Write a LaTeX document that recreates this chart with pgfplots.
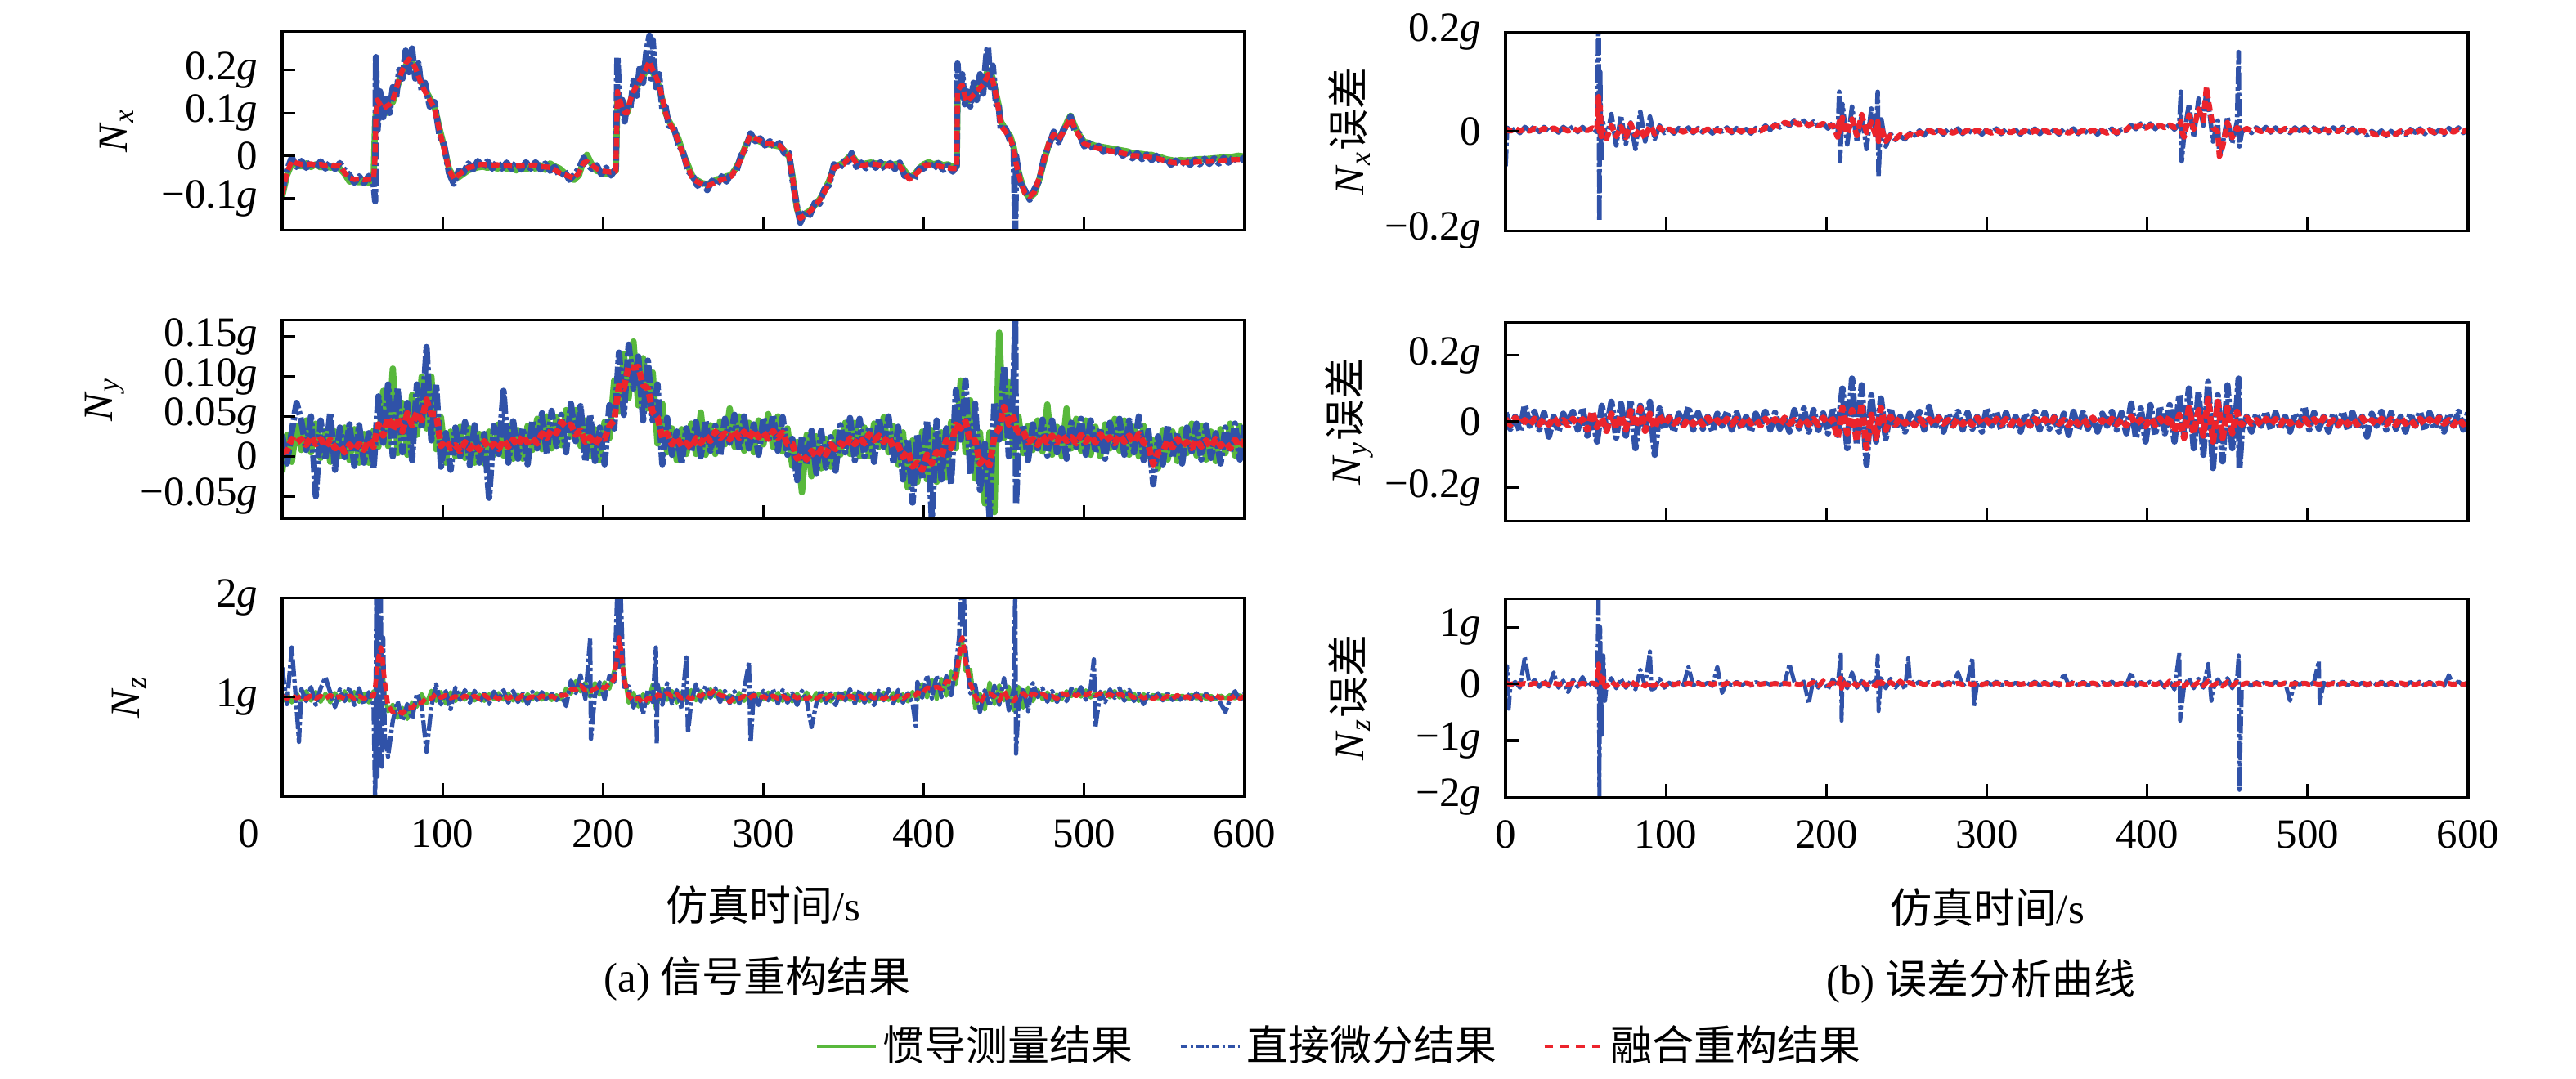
\documentclass[border=0pt]{standalone}
\usepackage{fontspec}
\setmainfont{Liberation Serif}
\newfontfamily\cjk{Noto Sans CJK SC}
\usepackage{pgfplots}
\pgfplotsset{compat=1.18}
\usepackage{pgfplotstable}
\definecolor{cg}{RGB}{88,184,60}
\definecolor{cb}{RGB}{48,82,168}
\definecolor{cr}{RGB}{236,36,44}

\pgfplotstableread{
t g b r
0 -0.095 -0.085 -0.09
3 -0.045 -0.035 -0.04
6 -0.018 -0.004 -0.012
9 -0.02 -0.026 -0.017
12 -0.025 -0.012 -0.02
15 -0.018 -0.028 -0.021
18 -0.026 -0.014 -0.019
21 -0.02 -0.029 -0.022
24 -0.027 -0.013 -0.02
27 -0.022 -0.03 -0.023
30 -0.028 -0.015 -0.021
33 -0.024 -0.031 -0.024
36 -0.03 -0.017 -0.023
39 -0.042 -0.035 -0.04
42 -0.06 -0.045 -0.052
45 -0.058 -0.063 -0.055
48 -0.062 -0.048 -0.054
51 -0.057 -0.064 -0.056
54 -0.063 -0.047 -0.055
57 -0.058 -0.065 -0.055
58 0.08 -0.106 0.0
58.5 0.10 0.23 0.10
59.5 0.12 0.06 0.13
61 0.11 0.15 0.12
63 0.105 0.09 0.11
65 0.1 0.14 0.115
67 0.12 0.1 0.12
69 0.125 0.16 0.13
71 0.15 0.135 0.155
73 0.175 0.2 0.18
75 0.19 0.18 0.2
77 0.21 0.245 0.215
79 0.21 0.195 0.225
81 0.22 0.25 0.22
83 0.205 0.18 0.205
85 0.19 0.215 0.185
87 0.17 0.15 0.165
89 0.155 0.17 0.15
92 0.135 0.115 0.13
95 0.115 0.125 0.11
98 0.065 0.05 0.06
101 0.02 0.025 0.015
104 -0.03 -0.04 -0.032
107 -0.05 -0.065 -0.054
110 -0.05 -0.035 -0.045
113 -0.042 -0.04 -0.036
116 -0.034 -0.018 -0.028
119 -0.03 -0.032 -0.025
122 -0.027 -0.012 -0.021
125 -0.025 -0.028 -0.02
128 -0.028 -0.013 -0.021
131 -0.023 -0.03 -0.022
134 -0.03 -0.014 -0.021
137 -0.026 -0.03 -0.023
140 -0.03 -0.016 -0.022
143 -0.027 -0.031 -0.024
146 -0.034 -0.016 -0.024
149 -0.028 -0.032 -0.024
152 -0.032 -0.015 -0.023
155 -0.025 -0.03 -0.022
158 -0.03 -0.015 -0.022
161 -0.022 -0.032 -0.025
164 -0.033 -0.018 -0.026
167 -0.018 -0.035 -0.027
170 -0.025 -0.026 -0.033
173 -0.03 -0.047 -0.04
176 -0.04 -0.036 -0.044
179 -0.052 -0.056 -0.048
182 -0.056 -0.045 -0.053
185 -0.045 -0.03 -0.04
188 -0.01 -0.005 -0.016
190 0.002 -0.02 -0.014
193 -0.02 -0.03 -0.022
196 -0.035 -0.022 -0.03
199 -0.038 -0.043 -0.035
202 -0.042 -0.028 -0.037
205 -0.04 -0.046 -0.038
208 -0.035 -0.03 -0.036
209 0.14 0.23 0.15
210.5 0.13 0.1 0.13
212 0.11 0.13 0.11
213.5 0.095 0.08 0.1
215 0.1 0.12 0.1
217 0.125 0.11 0.13
219 0.145 0.175 0.15
221 0.16 0.14 0.163
223 0.175 0.21 0.177
225 0.185 0.17 0.19
227 0.2 0.24 0.205
229 0.21 0.28 0.22
230 0.2 0.18 0.21
231 0.195 0.27 0.2
233 0.18 0.16 0.185
235 0.16 0.19 0.165
237 0.13 0.11 0.135
239 0.1 0.115 0.1
241 0.082 0.07 0.08
244 0.062 0.068 0.06
247 0.04 0.028 0.035
250 0.005 0.008 0.0
253 -0.022 -0.035 -0.027
256 -0.05 -0.047 -0.055
259 -0.058 -0.07 -0.061
262 -0.064 -0.058 -0.066
265 -0.066 -0.08 -0.07
268 -0.062 -0.058 -0.066
271 -0.055 -0.068 -0.06
274 -0.053 -0.048 -0.056
277 -0.048 -0.06 -0.052
280 -0.045 -0.04 -0.048
283 -0.028 -0.038 -0.03
286 -0.006 0.0 -0.008
289 0.025 0.017 0.025
292 0.044 0.052 0.047
295 0.038 0.034 0.041
298 0.033 0.041 0.035
301 0.028 0.024 0.03
304 0.026 0.034 0.028
307 0.024 0.02 0.026
310 0.022 0.03 0.024
313 0.012 0.006 0.013
316 -0.002 0.006 0.0
318 -0.045 -0.053 -0.047
321 -0.125 -0.12 -0.126
323 -0.142 -0.156 -0.146
326 -0.135 -0.13 -0.138
329 -0.128 -0.138 -0.13
332 -0.115 -0.11 -0.117
335 -0.102 -0.112 -0.104
338 -0.083 -0.078 -0.085
341 -0.058 -0.068 -0.06
344 -0.026 -0.02 -0.028
347 -0.022 -0.032 -0.024
350 -0.016 -0.013 -0.02
353 -0.004 -0.014 -0.006
355 0.002 0.006 0.0
358 -0.014 -0.026 -0.018
361 -0.02 -0.016 -0.023
364 -0.018 -0.029 -0.021
367 -0.016 -0.012 -0.019
370 -0.018 -0.028 -0.02
373 -0.02 -0.015 -0.022
376 -0.02 -0.032 -0.024
379 -0.021 -0.017 -0.024
382 -0.02 -0.031 -0.024
385 -0.018 -0.016 -0.024
388 -0.035 -0.047 -0.04
391 -0.05 -0.048 -0.055
394 -0.045 -0.055 -0.046
397 -0.03 -0.03 -0.036
400 -0.02 -0.03 -0.022
403 -0.015 -0.014 -0.021
406 -0.02 -0.03 -0.023
409 -0.017 -0.017 -0.024
412 -0.022 -0.033 -0.026
415 -0.02 -0.022 -0.028
418 -0.026 -0.037 -0.03
420.5 -0.025 -0.024 -0.03
421 0.14 0.215 0.15
422.5 0.16 0.13 0.16
424 0.165 0.19 0.165
425.5 0.14 0.12 0.14
427 0.125 0.15 0.126
429 0.135 0.115 0.134
431 0.145 0.17 0.142
433 0.15 0.13 0.15
435 0.165 0.19 0.158
437 0.175 0.145 0.166
439 0.19 0.235 0.18
440 0.2 0.255 0.19
441.5 0.195 0.16 0.185
443 0.18 0.21 0.175
445 0.145 0.12 0.14
446.5 0.12 0.125 0.11
448 0.08 0.06 0.07
451 0.06 0.064 0.056
454 0.045 0.033 0.04
456 0.02 0.022 0.016
457 0.0 -0.18 -0.005
457.5 -0.015 0.0 -0.018
460 -0.05 -0.062 -0.055
463 -0.085 -0.08 -0.087
466 -0.098 -0.102 -0.095
469 -0.088 -0.078 -0.085
472 -0.055 -0.058 -0.05
475 -0.012 -0.004 -0.01
478 0.028 0.024 0.031
481 0.05 0.056 0.05
484 0.04 0.032 0.038
487 0.058 0.061 0.055
490 0.085 0.074 0.08
491.5 0.093 0.092 0.087
494 0.07 0.06 0.066
497 0.048 0.051 0.045
500 0.032 0.022 0.028
503 0.03 0.03 0.024
506 0.024 0.014 0.02
509 0.022 0.023 0.017
512 0.02 0.009 0.015
515 0.018 0.018 0.012
518 0.016 0.004 0.01
521 0.014 0.014 0.008
524 0.012 0.0 0.006
527 0.01 0.009 0.003
530 0.006 -0.006 0.0
533 0.005 0.006 0.0
536 0.004 -0.008 -0.002
539 0.002 0.003 -0.003
542 0.002 -0.01 -0.004
545 -0.002 0.0 -0.006
548 -0.004 -0.015 -0.009
551 -0.008 -0.006 -0.012
554 -0.01 -0.021 -0.015
557 -0.012 -0.011 -0.017
560 -0.01 -0.022 -0.016
563 -0.011 -0.01 -0.016
566 -0.01 -0.021 -0.015
569 -0.009 -0.009 -0.015
572 -0.008 -0.02 -0.014
575 -0.008 -0.007 -0.013
578 -0.007 -0.019 -0.013
581 -0.006 -0.006 -0.012
584 -0.005 -0.018 -0.012
587 -0.004 -0.005 -0.011
590 -0.004 -0.016 -0.01
593 -0.002 -0.003 -0.009
596 0.0 -0.014 -0.009
600 -0.002 -0.004 -0.008
}\tA

\pgfplotstableread{
t g b r
0 -0.02 0.027 0.004
3 0.027 -0.009 0.007
6 -0.007 0.031 0.022
9 0.038 0.067 0.017
12 0.008 0.044 0.022
15 0.045 0.008 0.014
18 0.005 0.05 0.025
21 0.041 -0.05 0.015
24 -0.002 0.045 0.022
27 0.032 -0.004 0.012
30 -0.007 0.055 0.021
33 0.031 -0.017 0.01
36 0.0 0.036 0.014
39 0.036 -0.001 0.005
42 -0.005 0.04 0.015
45 0.034 -0.012 0.008
48 -0.008 0.039 0.016
51 0.028 -0.008 0.008
54 -0.008 0.029 0.02
57 0.032 -0.015 0.012
60 0.012 0.075 0.04
63 0.082 0.017 0.026
66 0.013 0.09 0.049
69 0.11 0.0 0.033
72 0.004 0.085 0.048
75 0.067 0.005 0.031
78 0.002 0.067 0.054
81 0.077 -0.005 0.039
84 0.027 0.09 0.055
87 0.1 0.035 0.045
90 0.035 0.137 0.071
93 0.1 0.02 0.053
96 0.009 0.09 0.053
99 0.049 -0.013 0.013
102 -0.008 0.029 0.02
105 0.031 -0.017 0.01
108 0.0 0.036 0.014
111 0.037 0.0 0.006
114 -0.002 0.043 0.018
117 0.035 -0.011 0.009
120 -0.008 0.039 0.016
123 0.028 -0.008 0.008
126 -0.009 0.028 0.019
129 0.031 -0.052 0.01
132 0.002 0.038 0.016
135 0.04 0.003 0.009
138 0.001 0.082 0.021
141 0.038 -0.008 0.012
144 -0.003 0.044 0.021
147 0.033 -0.003 0.013
150 -0.003 0.035 0.026
153 0.038 -0.01 0.017
156 0.008 0.045 0.023
159 0.047 0.01 0.016
162 0.009 0.054 0.029
165 0.05 0.003 0.023
168 0.01 0.057 0.034
171 0.049 0.013 0.029
174 0.014 0.052 0.043
177 0.058 0.005 0.037
180 0.025 0.066 0.04
183 0.058 0.019 0.027
186 0.013 0.063 0.033
189 0.045 -0.006 0.018
192 0.0 0.052 0.024
195 0.034 -0.006 0.014
198 -0.005 0.036 0.024
201 0.043 -0.01 0.022
204 0.023 0.064 0.038
207 0.095 0.035 0.045
210 0.056 0.13 0.089
213 0.128 0.052 0.085
216 0.073 0.14 0.113
219 0.144 0.085 0.111
222 0.064 0.125 0.112
225 0.123 0.045 0.089
228 0.06 0.12 0.085
231 0.105 0.045 0.055
234 0.016 0.09 0.049
237 0.066 -0.01 0.023
240 0.005 0.048 0.029
243 0.035 0.002 0.015
246 -0.005 0.031 0.024
249 0.034 -0.009 0.013
252 0.003 0.035 0.017
255 0.041 0.006 0.01
258 0.003 0.043 0.023
261 0.055 0.0 0.016
264 0.002 0.044 0.026
267 0.039 0.007 0.019
270 0.003 0.038 0.031
273 0.044 0.001 0.023
276 0.015 0.047 0.029
279 0.06 0.017 0.021
282 0.012 0.052 0.032
285 0.05 0.007 0.023
288 0.007 0.05 0.031
291 0.042 0.01 0.022
294 0.005 0.04 0.033
297 0.045 0.002 0.024
300 0.015 0.048 0.03
303 0.053 0.018 0.022
306 0.012 0.052 0.032
309 0.05 0.007 0.023
312 0.006 0.049 0.03
315 0.035 0.002 0.015
318 -0.012 0.022 0.016
321 0.018 -0.03 -0.003
324 -0.045 0.025 0.003
327 0.027 -0.01 -0.004
330 -0.025 0.032 0.007
333 0.025 -0.021 -0.001
336 -0.015 0.032 0.009
339 0.022 -0.014 0.002
342 -0.013 0.024 0.015
345 0.03 -0.018 0.009
348 0.002 0.039 0.017
351 0.042 0.005 0.011
354 0.003 0.048 0.023
357 0.042 -0.005 0.015
360 0.0 0.047 0.024
363 0.036 0.0 0.016
366 0.0 0.037 0.028
369 0.041 -0.007 0.02
372 0.012 0.048 0.026
375 0.049 0.012 0.018
378 0.005 0.05 0.025
381 0.038 -0.009 0.011
384 -0.01 0.037 0.014
387 0.03 -0.029 -0.001
390 -0.039 0.022 0.007
393 0.02 -0.058 -0.013
396 -0.032 0.028 -0.008
399 0.031 -0.029 -0.017
402 -0.029 0.045 0.002
405 0.033 -0.078 -0.009
408 -0.032 0.045 0.006
411 0.03 -0.029 -0.001
414 -0.026 0.035 0.02
417 0.043 -0.035 0.01
420 0.01 0.083 0.04
423 0.095 0.021 0.035
426 0.005 0.095 0.044
429 0.07 -0.023 0.018
432 -0.028 0.066 0.02
435 0.03 -0.042 -0.009
438 -0.059 0.016 -0.002
441 0.03 -0.075 -0.011
444 -0.07 0.068 0.025
447 0.155 0.021 0.035
450 0.023 0.113 0.062
453 0.093 0.0 0.04
456 0.001 0.095 0.049
457 0.03 0.175 0.04
457.5 0.035 -0.06 0.035
459 0.05 0.018 0.03
462 0.004 0.039 0.032
465 0.038 -0.005 0.017
468 0.008 0.04 0.022
471 0.045 0.01 0.014
474 0.006 0.046 0.026
477 0.065 0.001 0.017
480 0.002 0.045 0.026
483 0.037 0.005 0.017
486 0.0 0.035 0.028
489 0.06 -0.003 0.019
492 0.01 0.042 0.024
495 0.047 0.012 0.016
498 0.007 0.047 0.027
501 0.045 0.002 0.018
504 0.002 0.045 0.026
507 0.037 0.005 0.017
510 0.0 0.035 0.028
513 0.04 -0.003 0.019
516 0.01 0.042 0.024
519 0.047 0.012 0.016
522 0.007 0.047 0.027
525 0.045 0.002 0.018
528 0.002 0.045 0.026
531 0.037 0.005 0.017
534 0.0 0.05 0.028
537 0.038 -0.005 0.017
540 0.0 0.032 0.014
543 0.02 -0.035 -0.01
546 -0.015 0.025 0.005
549 0.033 -0.01 0.006
552 -0.004 0.039 0.02
555 0.031 -0.002 0.011
558 -0.006 0.029 0.022
561 0.034 -0.009 0.013
564 0.004 0.036 0.018
567 0.041 0.006 0.01
570 0.001 0.041 0.021
573 0.038 -0.004 0.012
576 -0.004 0.039 0.02
579 0.031 -0.002 0.011
582 -0.006 0.029 0.022
585 0.034 -0.009 0.013
588 0.004 0.036 0.018
591 0.041 0.006 0.01
594 0.001 0.041 0.021
597 0.038 -0.004 0.012
600 -0.004 0.039 0.02
}\tB

\pgfplotstableread{
t g b r
0 0.952 1.3 1.012
3 1.036 0.93 0.985
6 0.946 1.5 1.02
9 1.042 0.9 0.99
10.5 1.0 0.55 1.0
12 0.97 1.08 1.008
15 1.06 0.96 0.982
18 0.964 1.1 1.015
21 1.054 0.92 0.988
24 0.952 1.09 1.012
27 1.036 1.2 0.985
30 0.946 1.05 1.02
33 1.042 0.9 0.99
36 0.97 1.08 1.008
39 1.06 0.96 0.982
42 0.964 1.1 1.015
45 1.054 0.92 0.988
48 0.952 1.09 1.012
51 1.036 0.93 0.985
54 0.946 1.05 1.02
57 1.06 0.92 1.01
58 1.05 -0.05 1.1
58.7 1.1 2.1 1.2
59.4 1.15 0.2 1.3
60.1 1.2 2.1 1.4
60.8 1.3 0.4 1.45
61.5 1.4 2.1 1.5
62.2 1.35 0.3 1.45
63 1.2 1.6 1.3
64 1.0 0.6 1.15
66 0.857 0.4 0.915
69 0.925 0.764 0.848
72 0.792 0.958 0.862
75 0.893 0.766 0.835
78 0.78 0.93 0.89
81 0.95 0.78 0.89
84 0.904 1.036 0.948
87 1.032 0.912 0.943
90 0.937 0.45 0.995
93 1.065 0.904 0.988
96 0.962 1.128 1.032
99 1.053 0.926 0.995
102 0.935 1.06 1.02
105 1.05 0.88 0.99
108 0.96 1.096 1.008
111 1.042 0.972 0.982
114 0.975 1.07 1.015
117 1.038 0.944 0.988
120 0.966 1.063 1.012
123 1.025 0.951 0.985
126 0.962 1.035 1.02
129 1.03 0.93 0.99
132 0.979 1.056 1.008
135 1.042 0.972 0.982
138 0.975 1.07 1.015
141 1.038 0.944 0.988
144 0.966 1.063 1.012
147 1.025 0.951 0.985
150 0.962 1.035 1.02
153 1.03 0.93 0.99
156 0.979 1.056 1.008
159 1.042 0.972 0.982
162 0.975 1.05 1.015
165 1.03 0.965 0.988
168 0.97 1.035 1.012
171 1.02 0.97 0.985
174 0.975 1.03 1.02
177 1.088 0.91 1.02
180 1.034 1.166 1.078
183 1.162 1.042 1.072
186 1.057 1.22 1.115
189 1.145 0.984 1.068
192 1.002 1.59 1.072
192.5 1.05 0.58 1.06
195 1.143 1.016 1.085
198 1.025 1.15 1.11
201 1.15 0.98 1.09
204 1.084 1.216 1.128
207 1.27 1.152 1.183
209 1.4 2.1 1.45
210 1.55 1.3 1.6
211 1.45 2.05 1.5
213 1.265 1.104 1.188
216 0.942 1.108 1.012
219 1.045 0.896 0.965
222 0.905 1.03 0.99
225 1.03 0.83 0.94
228 0.94 1.076 0.988
231 1.13 0.952 0.982
233 0.88 1.5 1.0
233.5 1.0 0.52 1.0
234 0.938 1.13 1.025
237 1.085 0.924 1.008
240 0.972 1.138 1.042
243 1.063 0.936 1.005
246 0.945 1.07 1.03
249 1.05 0.88 0.99
252 0.964 1.4 1.008
253 1.0 0.64 1.0
255 1.072 0.952 0.982
258 0.967 1.13 1.025
261 1.063 0.956 1.008
264 0.992 1.112 1.052
267 1.079 0.994 1.035
270 1.007 1.09 1.07
273 1.064 0.95 1.02
276 0.976 1.064 1.008
279 1.018 0.938 0.952
282 0.951 1.06 0.995
285 1.043 0.936 0.988
288 0.962 1.072 1.012
291 1.029 1.35 0.985
292 1.0 0.54 1.0
294 0.957 1.04 1.02
297 1.034 0.92 0.99
300 0.976 1.064 1.008
303 1.048 0.968 0.982
306 0.971 1.08 1.015
309 1.043 0.936 0.988
312 0.962 1.072 1.012
315 1.029 0.944 0.985
318 0.957 1.04 1.02
321 1.034 0.92 0.99
324 0.976 1.064 1.008
327 1.048 0.968 0.982
330 0.971 0.7 1.015
333 1.043 0.936 0.988
336 0.962 1.072 1.012
339 1.029 0.944 0.985
342 0.957 1.04 1.02
345 1.034 0.92 0.99
348 0.976 1.064 1.008
351 1.048 0.968 0.982
354 0.971 1.08 1.015
357 1.043 0.936 0.988
360 0.962 1.072 1.012
363 1.029 0.944 0.985
366 0.957 1.04 1.02
369 1.034 0.92 0.99
372 0.976 1.064 1.008
375 1.048 0.968 0.982
378 0.971 1.08 1.015
381 1.043 0.936 0.988
384 0.962 1.072 1.012
387 1.029 0.944 0.985
390 0.957 1.04 1.02
393 1.054 0.94 1.01
395 1.0 0.71 1.02
396 0.97 1.152 1.048
399 1.134 0.994 1.032
402 0.996 1.22 1.095
405 1.176 0.988 1.088
408 0.978 1.216 1.102
411 1.184 1.002 1.085
414 1.014 1.21 1.16
417 1.258 1.02 1.15
420 1.13 1.312 1.208
422 1.35 1.6 1.4
423 1.5 2.1 1.55
424 1.55 1.7 1.6
425 1.45 2.05 1.5
426 1.266 1.49 1.365
429 1.276 1.038 1.138
432 0.888 1.126 1.012
435 1.034 0.852 0.935
438 0.874 1.07 1.02
441 1.148 0.91 1.04
444 0.93 1.112 1.008
447 1.12 0.924 0.962
450 0.966 1.19 1.065
453 1.106 0.868 0.968
456 0.866 1.076 0.962
457 0.95 2.1 0.97
457.5 1.0 0.43 1.0
459 1.104 0.922 1.005
462 0.894 1.09 1.04
465 1.098 0.86 0.99
468 0.96 1.142 1.038
471 1.072 1.002 1.012
474 0.978 1.09 1.035
477 1.048 0.954 0.998
480 0.966 1.063 1.012
483 1.025 0.951 0.985
486 0.982 1.055 1.04
489 1.06 0.96 1.02
492 1.009 1.086 1.038
495 1.072 1.002 1.012
498 1.005 1.1 1.045
501 1.068 0.974 1.018
504 0.996 1.093 1.042
506 1.03 1.38 1.03
507 1.055 0.7 1.015
510 0.982 1.055 1.04
513 1.05 0.95 1.01
516 0.999 1.076 1.028
519 1.062 0.992 1.002
522 0.995 1.09 1.035
525 1.058 0.964 1.008
528 0.976 1.073 1.022
531 1.035 0.961 0.995
534 0.962 1.035 1.02
537 1.03 0.93 0.99
540 0.988 1.032 1.008
543 1.024 0.984 0.982
546 0.986 1.04 1.015
549 1.022 0.968 0.988
552 0.981 1.036 1.012
555 1.014 0.972 0.985
558 0.978 1.02 1.02
561 1.017 0.96 0.99
564 0.988 1.032 1.008
567 1.024 0.984 0.982
570 0.986 1.04 1.015
573 1.022 0.968 0.988
576 0.981 1.036 1.012
579 1.014 0.972 0.985
582 0.978 1.02 1.02
585 1.017 0.94 0.99
588 0.988 0.85 1.008
591 1.024 0.984 0.982
594 0.986 1.06 1.015
597 1.022 0.968 0.988
600 0.981 1.036 1.012
}\tC

\pgfplotstableread{
t b r
0 -0.07 0.0
1 0.008 0.004
3 -0.001 0.001
6 0.006 0.006
9 -0.003 0.001
12 0.009 0.005
15 0.002 0.001
18 0.01 0.006
21 -0.001 0.002
24 0.009 0.006
27 0.0 0.002
30 0.007 0.007
33 -0.002 0.002
36 0.009 0.005
39 0.002 0.001
42 0.01 0.006
45 -0.001 0.002
48 0.009 0.006
51 0.0 0.002
54 0.007 0.007
57 -0.001 0.004
58 0.25 0.07
58.5 -0.18 0.0
59 0.12 0.05
59.6 -0.06 -0.01
60 0.028 0.006
63 -0.014 -0.014
66 0.035 0.012
69 -0.028 -0.01
72 0.032 0.01
75 -0.025 -0.012
78 0.018 0.016
81 -0.035 -0.008
84 0.04 0.006
87 -0.02 -0.014
90 0.03 0.012
93 -0.015 -0.005
96 0.012 0.008
99 -0.003 0.0
102 0.005 0.005
105 -0.004 0.0
108 0.007 0.003
111 0.0 -0.001
114 0.008 0.004
117 -0.003 0.0
120 0.007 0.004
123 -0.002 0.0
126 0.005 0.005
129 -0.004 0.0
132 0.007 0.003
135 0.0 -0.001
138 0.008 0.004
141 -0.003 0.0
144 0.007 0.004
147 -0.002 0.0
150 0.005 0.005
153 -0.004 0.0
156 0.007 0.003
159 0.002 0.001
162 0.012 0.008
165 0.003 0.006
168 0.015 0.012
171 0.008 0.01
174 0.018 0.018
177 0.011 0.015
180 0.023 0.019
183 0.015 0.014
186 0.022 0.018
189 0.01 0.013
192 0.02 0.017
195 0.01 0.012
198 0.016 0.016
201 0.006 0.01
204 0.017 0.013
207 -0.008 -0.011
208 0.08 0.02
208.5 -0.06 0.0
210 0.055 0.028
213 -0.026 -0.005
216 0.05 0.025
219 -0.021 -0.008
222 0.033 0.034
225 -0.035 -0.002
228 0.046 0.019
231 -0.008 -0.011
232 0.08 0.02
232.5 -0.09 -0.02
234 0.03 0.01
237 -0.03 -0.02
240 -0.005 -0.008
243 -0.017 -0.015
246 -0.009 -0.007
249 -0.016 -0.012
252 -0.003 -0.006
255 -0.008 -0.009
258 0.002 -0.002
261 -0.008 -0.005
264 0.006 0.002
267 -0.004 -0.002
270 0.003 0.003
273 -0.006 -0.002
276 0.005 0.001
279 -0.002 -0.003
282 0.006 0.002
285 -0.005 -0.002
288 0.005 0.002
291 -0.004 -0.002
294 0.003 0.003
297 -0.006 -0.002
300 0.005 0.001
303 -0.002 -0.003
306 0.006 0.002
309 -0.005 -0.002
312 0.005 0.002
315 -0.004 -0.002
318 0.003 0.003
321 -0.006 -0.002
324 0.005 0.001
327 -0.002 -0.003
330 0.006 0.002
333 -0.005 -0.002
336 0.005 0.002
339 -0.004 -0.002
342 0.003 0.003
345 -0.006 -0.002
348 0.005 0.001
351 -0.002 -0.003
354 0.006 0.002
357 -0.005 -0.002
360 0.005 0.002
363 -0.004 -0.002
366 0.003 0.003
369 -0.006 -0.002
372 0.005 0.001
375 -0.002 -0.003
378 0.006 0.002
381 -0.005 -0.002
384 0.005 0.002
387 0.001 0.003
390 0.013 0.013
393 0.005 0.009
396 0.016 0.012
399 0.008 0.007
402 0.016 0.012
405 0.005 0.008
408 0.015 0.012
411 0.006 0.008
414 0.013 0.013
417 0.004 0.008
420 0.015 0.012
421 0.08 0.02
421.5 -0.06 0.0
423 -0.006 -0.011
426 0.055 0.033
429 -0.012 0.005
432 0.066 0.045
435 0.012 0.022
437 0.09 0.09
438 0.06 0.064
441 -0.02 0.008
444 0.022 -0.001
445 -0.05 -0.05
447 -0.026 -0.03
450 0.03 0.018
453 -0.024 -0.012
456 0.02 0.008
457 0.16 0.003
457.5 -0.03 0.0
459 -0.001 0.001
462 0.006 0.006
465 -0.003 0.001
468 0.008 0.004
471 0.001 0.0
474 0.009 0.005
477 -0.002 0.001
480 0.008 0.005
483 -0.001 0.001
486 0.006 0.006
489 -0.003 0.001
492 0.008 0.004
495 0.001 0.0
498 0.009 0.005
501 -0.002 0.001
504 0.008 0.005
507 -0.001 0.001
510 0.006 0.006
513 -0.003 0.001
516 0.008 0.004
519 0.001 0.0
522 0.009 0.005
525 -0.002 0.001
528 0.007 0.004
531 -0.003 -0.001
534 0.003 0.003
537 -0.008 -0.004
540 0.001 -0.003
543 -0.006 -0.007
546 0.002 -0.002
549 -0.009 -0.006
552 0.001 -0.002
555 -0.007 -0.005
558 0.001 0.001
561 -0.007 -0.003
564 0.005 0.001
567 -0.002 -0.003
570 0.006 0.002
573 -0.005 -0.002
576 0.005 0.002
579 -0.004 -0.002
582 0.003 0.003
585 -0.006 -0.002
588 0.007 0.003
591 0.0 -0.001
594 0.008 0.004
597 -0.003 0.0
600 0.007 0.004
}\tD

\pgfplotstableread{
t b r
0 0.027 0.008
3 -0.021 -0.009
6 0.015 0.012
9 -0.03 -0.006
12 0.05 0.005
15 -0.012 -0.011
18 0.03 0.009
21 -0.024 -0.008
24 0.027 0.008
27 -0.045 -0.009
30 0.015 0.012
33 -0.03 -0.006
36 0.024 0.005
39 -0.012 -0.011
42 0.03 0.009
45 -0.024 -0.008
48 0.04 0.008
51 -0.042 -0.024
54 0.03 0.032
57 -0.06 -0.016
60 0.048 0.012
63 -0.024 -0.028
66 0.06 0.024
69 -0.048 -0.02
72 0.054 0.02
75 -0.042 -0.024
78 0.065 0.032
81 -0.08 -0.016
84 0.048 0.04
87 -0.024 -0.028
90 0.06 0.024
93 -0.1 -0.02
96 0.04 0.02
99 -0.021 -0.009
102 0.015 0.012
105 -0.03 -0.006
108 0.024 0.005
111 -0.012 -0.011
114 0.045 0.009
117 -0.024 -0.008
120 0.027 0.008
123 -0.021 -0.009
126 0.015 0.012
129 -0.03 -0.006
132 0.024 0.005
135 -0.012 -0.011
138 0.03 0.009
141 -0.024 -0.008
144 0.027 0.008
147 -0.021 -0.009
150 0.015 0.012
153 -0.03 -0.006
156 0.024 0.005
159 -0.012 -0.011
162 0.03 0.009
165 -0.024 -0.008
168 0.027 0.008
171 -0.021 -0.009
174 0.015 0.012
177 -0.03 -0.006
180 0.035 0.005
183 -0.02 -0.011
186 0.04 0.009
189 -0.03 -0.008
192 0.035 0.008
195 -0.025 -0.009
198 0.025 0.012
201 -0.035 -0.006
204 0.04 0.008
207 -0.04 -0.049
210 0.1 0.042
213 -0.08 -0.035
216 0.13 0.035
219 -0.07 -0.06
222 0.11 0.056
225 -0.13 -0.08
228 0.08 0.021
231 -0.06 -0.049
234 0.07 0.042
237 -0.05 -0.025
240 0.04 0.015
243 -0.021 -0.009
246 0.015 0.012
249 -0.03 -0.006
252 0.024 0.005
255 -0.012 -0.011
258 0.03 0.009
261 -0.024 -0.008
264 0.045 0.008
267 -0.021 -0.009
270 0.015 0.012
273 -0.03 -0.006
276 0.024 0.005
279 -0.012 -0.011
282 0.03 0.009
285 -0.024 -0.008
288 0.027 0.008
291 -0.021 -0.009
294 0.015 0.012
297 -0.03 -0.006
300 0.04 0.005
303 -0.012 -0.011
306 0.03 0.009
309 -0.024 -0.008
312 0.027 0.008
315 -0.021 -0.009
318 0.015 0.012
321 -0.03 -0.006
324 0.024 0.005
327 -0.012 -0.011
330 0.03 0.009
333 -0.024 -0.008
336 0.027 0.008
339 -0.021 -0.009
342 0.015 0.012
345 -0.03 -0.006
348 0.024 0.005
351 -0.04 -0.011
354 0.03 0.009
357 -0.024 -0.008
360 0.027 0.008
363 -0.021 -0.009
366 0.015 0.012
369 -0.03 -0.006
372 0.024 0.005
375 -0.012 -0.011
378 0.03 0.009
381 -0.024 -0.008
384 0.027 0.008
387 -0.035 -0.012
390 0.055 0.016
393 -0.05 -0.008
396 0.04 0.006
399 -0.06 -0.014
402 0.05 0.012
405 -0.04 -0.01
408 0.045 0.01
411 -0.035 -0.012
414 0.05 0.016
417 -0.06 -0.03
420 0.08 0.021
423 -0.04 -0.049
426 0.1 0.042
429 -0.08 -0.035
432 0.09 0.035
435 -0.1 -0.042
438 0.12 0.07
441 -0.14 -0.06
444 0.08 0.06
447 -0.12 -0.049
450 0.11 0.042
453 -0.08 -0.035
456 0.06 0.03
457 0.13 0.01
457.5 -0.14 0.0
459 -0.021 -0.009
462 0.015 0.012
465 -0.03 -0.006
468 0.024 0.005
471 -0.012 -0.011
474 0.03 0.009
477 -0.024 -0.008
480 0.027 0.008
483 -0.021 -0.009
486 0.015 0.012
489 -0.03 -0.006
492 0.024 0.005
495 -0.012 -0.011
498 0.045 0.009
501 -0.024 -0.008
504 0.027 0.008
507 -0.021 -0.009
510 0.015 0.012
513 -0.03 -0.006
516 0.024 0.005
519 -0.012 -0.011
522 0.03 0.009
525 -0.024 -0.008
528 0.027 0.008
531 -0.021 -0.009
534 0.015 0.012
537 -0.045 -0.006
540 0.024 0.005
543 -0.012 -0.011
546 0.03 0.009
549 -0.024 -0.008
552 0.027 0.008
555 -0.021 -0.009
558 0.015 0.012
561 -0.03 -0.006
564 0.024 0.005
567 -0.012 -0.011
570 0.03 0.009
573 -0.024 -0.008
576 0.027 0.008
579 -0.021 -0.009
582 0.015 0.012
585 -0.03 -0.006
588 0.024 0.005
591 -0.012 -0.011
594 0.03 0.009
597 -0.024 -0.008
600 0.027 0.008
}\tE

\pgfplotstableread{
t b r
0 0.063 0.03
1 0.31 0.0
2 -0.44 0.0
3 -0.049 -0.012
6 0.035 0.016
9 -0.07 -0.008
12 0.48 0.006
15 -0.028 -0.014
18 0.07 0.012
21 -0.056 -0.01
24 0.063 0.01
27 -0.049 -0.012
30 0.2 0.016
33 -0.07 -0.008
36 0.056 0.006
39 -0.15 -0.014
42 0.07 0.012
45 -0.056 -0.01
48 0.12 0.01
51 -0.049 -0.012
54 0.035 0.016
57 -0.07 -0.008
58 1.6 0.35
58.5 -2.1 0.1
59 1.0 0.2
60 -0.9 -0.05
61 0.5 0.1
62 -0.3 -0.06
63 -0.04 -0.042
66 0.1 0.036
69 -0.08 -0.03
72 0.09 0.03
75 -0.07 -0.036
78 0.05 0.048
81 -0.1 -0.024
84 0.25 0.018
87 -0.04 -0.042
90 0.57 0.036
91 -0.1 -0.03
93 -0.08 -0.03
96 0.09 0.03
99 -0.07 -0.036
102 0.02 0.016
105 -0.04 -0.008
108 0.032 0.006
111 -0.016 -0.014
114 0.3 0.012
117 -0.032 -0.01
120 0.036 0.01
123 -0.028 -0.012
126 0.02 0.016
129 -0.04 -0.008
132 0.3 0.006
135 -0.16 -0.014
138 0.04 0.012
141 -0.032 -0.01
144 0.036 0.01
147 -0.028 -0.012
150 0.02 0.016
153 -0.04 -0.008
156 0.032 0.006
159 -0.008 -0.007
162 0.02 0.006
165 -0.016 -0.005
168 0.018 0.005
171 -0.014 -0.006
174 0.01 0.008
177 0.35 -0.004
180 0.032 0.006
183 -0.016 -0.014
186 0.04 0.012
189 -0.35 -0.01
192 0.09 0.03
195 -0.07 -0.036
198 0.05 0.048
201 -0.1 -0.024
204 0.08 0.018
207 -0.04 -0.042
209 0.55 0.1
209.5 -0.65 -0.08
210 0.1 0.036
213 -0.08 -0.03
216 0.2 0.03
219 -0.07 -0.036
222 0.05 0.048
225 -0.1 -0.024
228 0.08 0.018
231 -0.04 -0.042
232 0.5 0.03
232.5 -0.48 -0.03
234 0.1 0.036
237 -0.08 -0.03
240 0.09 0.03
243 -0.07 -0.036
246 0.05 0.048
249 -0.1 -0.024
251 0.45 0.02
252 0.08 0.018
255 -0.016 -0.014
258 0.04 0.012
261 -0.032 -0.01
264 0.036 0.01
267 -0.028 -0.012
270 0.02 0.016
273 -0.04 -0.008
276 0.032 0.006
279 -0.016 -0.014
282 0.2 0.012
285 -0.032 -0.01
288 0.036 0.01
291 0.45 -0.012
292 -0.4 -0.01
294 0.02 0.016
297 -0.04 -0.008
300 0.032 0.006
303 -0.016 -0.014
306 0.04 0.012
309 -0.032 -0.01
312 0.036 0.01
315 -0.028 -0.012
318 0.02 0.016
321 -0.04 -0.008
324 0.032 0.006
327 -0.016 -0.014
330 0.04 0.012
333 -0.032 -0.01
336 0.036 0.01
339 -0.028 -0.012
342 0.02 0.016
345 -0.04 -0.008
348 0.18 0.006
351 -0.016 -0.014
354 0.04 0.012
357 -0.032 -0.01
360 0.036 0.01
363 -0.028 -0.012
366 0.02 0.016
369 -0.04 -0.008
372 0.032 0.006
375 -0.016 -0.014
378 0.04 0.012
381 -0.032 -0.01
384 0.036 0.01
387 -0.028 -0.012
390 0.2 0.016
393 -0.04 -0.008
396 0.032 0.006
399 -0.016 -0.014
402 0.04 0.012
405 -0.032 -0.01
408 0.036 0.01
411 -0.07 -0.036
414 0.05 0.048
417 -0.1 -0.024
420 0.55 0.018
420.5 -0.65 -0.04
423 -0.04 -0.042
426 0.1 0.036
429 -0.08 -0.03
432 0.09 0.03
435 -0.07 -0.036
438 0.35 0.048
440 -0.3 -0.03
441 -0.1 -0.024
444 0.08 0.018
447 -0.04 -0.042
450 0.1 0.036
453 -0.08 -0.03
456 0.09 0.03
457 0.5 0.02
457.5 -1.87 -0.02
459 -0.028 -0.012
462 0.02 0.016
465 -0.04 -0.008
468 0.032 0.006
471 -0.016 -0.014
474 0.04 0.012
477 -0.032 -0.01
480 0.036 0.01
483 -0.028 -0.012
486 0.02 0.016
489 -0.3 -0.008
492 0.032 0.006
495 -0.016 -0.014
498 0.04 0.012
501 -0.032 -0.01
504 0.036 0.01
507 0.4 -0.012
507.5 -0.35 -0.01
510 0.02 0.016
513 -0.04 -0.008
516 0.032 0.006
519 -0.016 -0.014
522 0.04 0.012
525 -0.032 -0.01
528 0.036 0.01
531 -0.028 -0.012
534 0.02 0.016
537 -0.04 -0.008
540 0.032 0.006
543 -0.016 -0.014
546 0.04 0.012
549 -0.032 -0.01
552 0.036 0.01
555 -0.028 -0.012
558 0.02 0.016
561 -0.04 -0.008
564 0.032 0.006
567 -0.016 -0.014
570 0.04 0.012
573 -0.032 -0.01
576 0.036 0.01
579 -0.028 -0.012
582 0.02 0.016
585 -0.04 -0.008
588 0.15 0.006
591 -0.016 -0.014
594 0.04 0.012
597 -0.032 -0.01
600 0.036 0.01
}\tF

\pgfplotsset{
  panel/.style={
    scale only axis, width=11.77cm, height=2.43cm,
    xmin=0, xmax=600,
    axis on top,
    axis line style={line width=0.9pt},
    every tick/.style={black, line width=0.9pt},
    major tick length=0.16cm,
    tick align=inside,
    xtick pos=left, ytick pos=left,
    xtick={0,100,200,300,400,500,600},
    xticklabels={},
    xticklabel shift=0.11cm,
    yticklabel shift=0.12cm,
    every axis y label/.style={at={(axis description cs:-0.1716,0.5)}, rotate=90, anchor=center},
  },
  gline/.style={color=cg, line width=1.4pt, line join=round},
  bline/.style={color=cb, line width=1.4pt, line join=round, dash pattern=on 6pt off 1pt on 1.2pt off 1pt},
  rline/.style={color=cr, line width=1.5pt, line join=round, dash pattern=on 3pt off 1.4pt},
}

\begin{document}
\fontsize{14.5}{17}\selectfont
\begin{tikzpicture}
\path (0cm,0cm) rectangle (31.5cm,13.03cm);

% ---------- (a) left column ----------
\begin{axis}[panel, at={(3.45cm,10.29cm)}, anchor=south west,
  ymin=-0.173, ymax=0.29,
  ytick={-0.1,0,0.1,0.2},
  yticklabels={−0.1\textit{g},0,0.1\textit{g},0.2\textit{g}},
  ylabel={\textit{N}\textsubscript{\textit{x}}}]
\addplot[gline, line width=2.2pt] table[x=t,y=g]{\tA};
\addplot[bline, line width=2.2pt] table[x=t,y=b]{\tA};
\addplot[rline, line width=1.8pt] table[x=t,y=r]{\tA};
\end{axis}

\begin{axis}[panel, at={(3.45cm,6.76cm)}, anchor=south west,
  ymin=-0.078, ymax=0.171,
  ytick={-0.05,0,0.05,0.1,0.15},
  yticklabels={−0.05\textit{g},0,0.05\textit{g},0.10\textit{g},0.15\textit{g}},
  ylabel={\textit{N}\textsubscript{\textit{y}}},
  ylabel style={at={(axis description cs:-0.1844,0.6)}}]
\addplot[gline, line width=2.2pt] table[x=t,y=g]{\tB};
\addplot[bline, line width=2.2pt] table[x=t,y=b]{\tB};
\addplot[rline, line width=2.2pt] table[x=t,y=r]{\tB};
\end{axis}

\begin{axis}[panel, at={(3.45cm,3.36cm)}, anchor=south west,
  ymin=0, ymax=2,
  ytick={1,2},
  yticklabels={1\textit{g},2\textit{g}},
  xticklabels={\makebox[0pt]{0\hspace{0.82cm}},100,200,300,400,500,600},
  ylabel={\textit{N}\textsubscript{\textit{z}}},
  ylabel style={at={(axis description cs:-0.1589,0.5)}},
  legend columns=3,
  legend style={at={(axis description cs:1.0999,-1.259)}, anchor=center,
    draw=none, fill=none, font=\fontsize{14.5}{17}\selectfont,
    /tikz/every even column/.append style={column sep=0.5cm}},
  legend cell align=left,
  legend image code/.code={\draw[#1, line width=0.9pt] (0cm,0cm) -- (0.72cm,0cm);}]
\addplot[gline] table[x=t,y=g]{\tC};
\addlegendentry{{\cjk 惯导测量结果}}
\addplot[bline, line width=1.5pt, legend image post style={dash pattern=on 2.5pt off 1pt on 1pt off 1pt}] table[x=t,y=b]{\tC};
\addlegendentry{{\cjk 直接微分结果}}
\addplot[rline, line width=1.6pt, legend image post style={dash pattern=on 3pt off 2.5pt}] table[x=t,y=r]{\tC};
\addlegendentry{{\cjk 融合重构结果}}
\end{axis}

% ---------- (b) right column ----------
\begin{axis}[panel, at={(18.41cm,10.28cm)}, anchor=south west,
  ymin=-0.2, ymax=0.2,
  ytick={-0.2,0,0.2},
  yticklabels={−0.2\textit{g},0,0.2\textit{g}},
  ylabel={\textit{N}\textsubscript{\textit{x}}{\cjk 误差}},
  ylabel style={at={(axis description cs:-0.1623,0.5)}}]
\addplot[bline, line width=1.6pt] table[x=t,y=b]{\tD};
\addplot[rline, line width=1.9pt] table[x=t,y=r]{\tD};
\end{axis}

\begin{axis}[panel, at={(18.41cm,6.73cm)}, anchor=south west,
  ymin=-0.3, ymax=0.3,
  ytick={-0.2,0,0.2},
  yticklabels={−0.2\textit{g},0,0.2\textit{g}},
  ylabel={\textit{N}\textsubscript{\textit{y}}{\cjk 误差}},
  ylabel style={at={(axis description cs:-0.1623,0.5)}}]
\addplot[bline, line width=2.2pt] table[x=t,y=b]{\tE};
\addplot[rline, line width=2.2pt] table[x=t,y=r]{\tE};
\end{axis}

\begin{axis}[panel, at={(18.41cm,3.35cm)}, anchor=south west,
  ymin=-2, ymax=1.5,
  ytick={-2,-1,0,1},
  yticklabels={−2\textit{g},−1\textit{g},0,1\textit{g}},
  xticklabels={0,100,200,300,400,500,600},
  ylabel={\textit{N}\textsubscript{\textit{z}}{\cjk 误差}},
  ylabel style={at={(axis description cs:-0.1623,0.5)}}]
\addplot[bline] table[x=t,y=b]{\tF};
\addplot[rline, line width=1.7pt] table[x=t,y=r]{\tF};
\end{axis}

\node at (9.335cm,2.03cm) {{\cjk 仿真时间}/s};
\node at (24.30cm,2.00cm) {{\cjk 仿真时间}/s};
\node at (9.26cm,1.13cm) {(a) {\cjk 信号重构结果}};
\node at (24.22cm,1.10cm) {(b) {\cjk 误差分析曲线}};
\end{tikzpicture}
\end{document}
